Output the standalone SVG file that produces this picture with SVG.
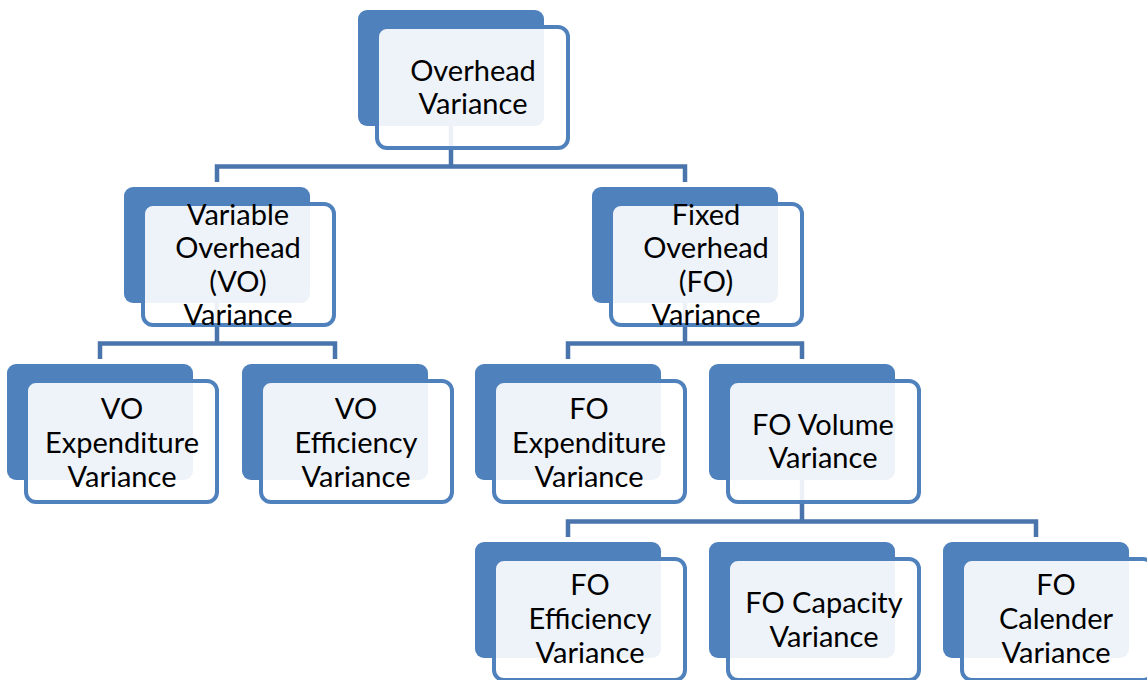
<svg xmlns="http://www.w3.org/2000/svg" width="1147" height="680" viewBox="0 0 1147 680">
<defs>
<style>
.back{fill:#4F81BD;}
.front{fill:#FFFFFF;fill-opacity:0.9;stroke:#4F81BD;stroke-width:4;}
.conn{fill:none;stroke:#4A74AC;stroke-width:4.5;stroke-linejoin:miter;stroke-linecap:butt;}
text{font-family:Lato,"Liberation Sans",sans-serif;font-size:29px;fill:#000;text-anchor:middle;}
</style>
</defs>
<rect width="1147" height="680" fill="#FFFFFF"/>
<g id="connectors">
<path class="conn" d="M451,126 V166.5"/>
<path class="conn" d="M217,182 V166.5 H685 V182"/>
<path class="conn" d="M217,303 V343.5"/>
<path class="conn" d="M100,359 V343.5 H335 V359"/>
<path class="conn" d="M685,303 V343.5"/>
<path class="conn" d="M568,359 V343.5 H802 V359"/>
<path class="conn" d="M802,480 V521.5"/>
<path class="conn" d="M568,537 V521.5 H1036 V537"/>
</g>
<g id="n-overhead">
<rect class="back" x="358" y="10" width="186" height="116" rx="9"/>
<rect class="front" x="377" y="27" width="191" height="121" rx="10"/>
<text x="473" y="81">Overhead</text>
<text x="473" y="114">Variance</text>
</g>
<g id="n-vo">
<rect class="back" x="124" y="187" width="186" height="116" rx="9"/>
<rect class="front" x="143" y="204" width="191" height="121" rx="10"/>
<text x="238" y="225">Variable</text>
<text x="238" y="258">Overhead</text>
<text x="238" y="292">(VO)</text>
<text x="238" y="325">Variance</text>
</g>
<g id="n-fo">
<rect class="back" x="592" y="187" width="186" height="116" rx="9"/>
<rect class="front" x="611" y="204" width="191" height="121" rx="10"/>
<text x="706" y="225">Fixed</text>
<text x="706" y="258">Overhead</text>
<text x="706" y="292">(FO)</text>
<text x="706" y="325">Variance</text>
</g>
<g id="n-vo-exp">
<rect class="back" x="7" y="364" width="186" height="116" rx="9"/>
<rect class="front" x="26" y="381" width="191" height="121" rx="10"/>
<text x="122" y="419">VO</text>
<text x="122" y="453">Expenditure</text>
<text x="122" y="487">Variance</text>
</g>
<g id="n-vo-eff">
<rect class="back" x="242" y="364" width="186" height="116" rx="9"/>
<rect class="front" x="261" y="381" width="191" height="121" rx="10"/>
<text x="356" y="419">VO</text>
<text x="356" y="453">Efficiency</text>
<text x="356" y="487">Variance</text>
</g>
<g id="n-fo-exp">
<rect class="back" x="475" y="364" width="186" height="116" rx="9"/>
<rect class="front" x="494" y="381" width="191" height="121" rx="10"/>
<text x="589" y="419">FO</text>
<text x="589" y="453">Expenditure</text>
<text x="589" y="487">Variance</text>
</g>
<g id="n-fo-vol">
<rect class="back" x="709" y="364" width="186" height="116" rx="9"/>
<rect class="front" x="728" y="381" width="191" height="121" rx="10"/>
<text x="823" y="435">FO Volume</text>
<text x="823" y="468">Variance</text>
</g>
<g id="n-fo-eff">
<rect class="back" x="475" y="542" width="186" height="116" rx="9"/>
<rect class="front" x="494" y="559" width="191" height="121" rx="10"/>
<text x="590" y="595">FO</text>
<text x="590" y="629">Efficiency</text>
<text x="590" y="663">Variance</text>
</g>
<g id="n-fo-cap">
<rect class="back" x="709" y="542" width="186" height="116" rx="9"/>
<rect class="front" x="728" y="559" width="191" height="121" rx="10"/>
<text x="824" y="613">FO Capacity</text>
<text x="824" y="647">Variance</text>
</g>
<g id="n-fo-cal">
<rect class="back" x="943" y="542" width="186" height="116" rx="9"/>
<rect class="front" x="962" y="559" width="191" height="121" rx="10"/>
<text x="1056" y="595">FO</text>
<text x="1056" y="629">Calender</text>
<text x="1056" y="663">Variance</text>
</g>
</svg>
